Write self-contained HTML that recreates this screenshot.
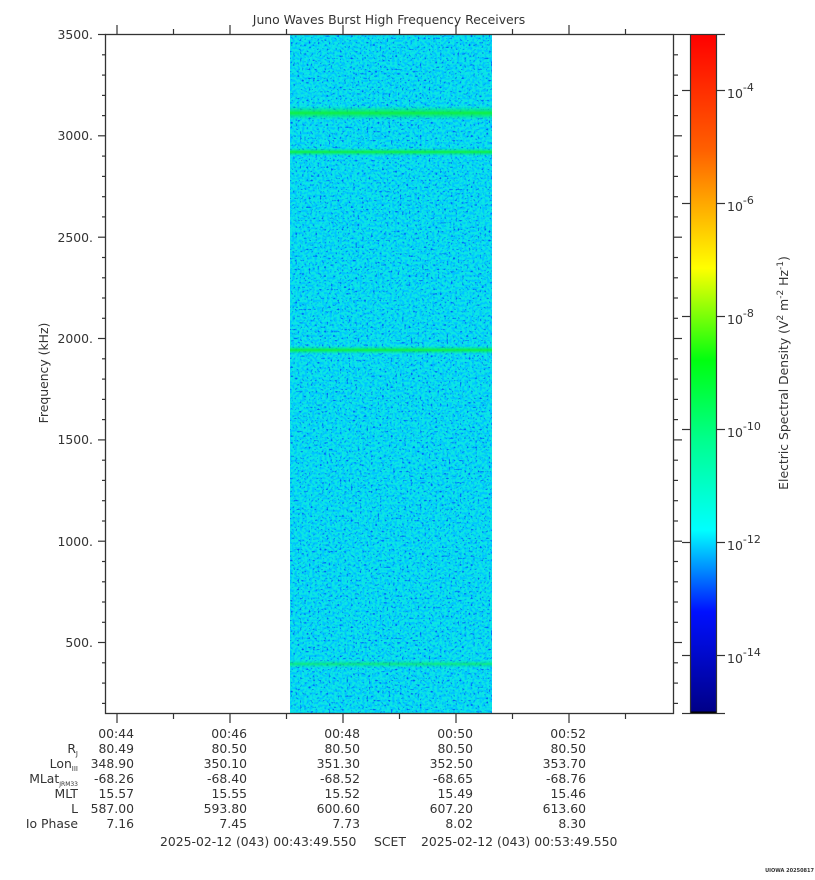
<!DOCTYPE html>
<html><head><meta charset="utf-8"><style>
html,body{margin:0;padding:0;background:#fff;}
svg{display:block;font-family:"DejaVu Sans","Liberation Sans",sans-serif;}
</style></head><body>
<svg width="815" height="880" viewBox="0 0 815 880" xmlns="http://www.w3.org/2000/svg">
<defs>
<linearGradient id="jet" x1="0" y1="0" x2="0" y2="1">
<stop offset="0" stop-color="#ff0000"/>
<stop offset="0.17" stop-color="#ff6000"/>
<stop offset="0.344" stop-color="#ffff00"/>
<stop offset="0.48" stop-color="#00ff10"/>
<stop offset="0.6" stop-color="#00ff90"/>
<stop offset="0.73" stop-color="#00ffff"/>
<stop offset="0.85" stop-color="#0010ff"/>
<stop offset="0.997" stop-color="#000088"/>
<stop offset="0.997" stop-color="#000"/>
<stop offset="1" stop-color="#000"/>
</linearGradient>
<filter id="nz" x="0" y="0" width="1" height="1" filterUnits="objectBoundingBox">
<feTurbulence type="fractalNoise" baseFrequency="0.4" numOctaves="1" seed="5"/>
<feColorMatrix type="matrix" values="0 0 0 0 0  0 0 0 0 0.55  0 0 0 0 1  5 0 0 0 -2.2"/>
</filter>
<filter id="nz2" x="0" y="0" width="1" height="1" filterUnits="objectBoundingBox">
<feTurbulence type="fractalNoise" baseFrequency="0.45" numOctaves="1" seed="11"/>
<feColorMatrix type="matrix" values="0 0 0 0 0  0 0 0 0 0.1  0 0 0 0 0.95  6 0 0 0 -3.6"/>
</filter>
<linearGradient id="ln" x1="0" y1="0" x2="0" y2="1">
<stop offset="0" stop-color="#00f080" stop-opacity="0"/>
<stop offset="0.5" stop-color="#10f040" stop-opacity="1"/>
<stop offset="1" stop-color="#00f080" stop-opacity="0"/>
</linearGradient>
</defs>
<text x="389" y="24" font-size="12.4" text-anchor="middle" fill="#333">Juno Waves Burst High Frequency Receivers</text>
<!-- spectrogram -->
<rect x="290" y="34" width="202" height="680" fill="#0ce6e4"/>
<rect x="290" y="34" width="202" height="680" filter="url(#nz)"/>
<rect x="290" y="34" width="202" height="680" filter="url(#nz2)"/>
<rect x="290" y="106" width="202" height="14" fill="url(#ln)"/>
<rect x="290" y="148" width="202" height="8" fill="url(#ln)"/>
<rect x="290" y="346" width="202" height="8" fill="url(#ln)"/>
<rect x="290" y="660" width="202" height="8" fill="url(#ln)" opacity="0.6"/>
<!-- frame -->
<rect x="105.5" y="34.5" width="568" height="679" fill="none" stroke="#333" stroke-width="1.3"/>
<g stroke="#333" stroke-width="1.2" id="yt">
<line x1="98" y1="34.5" x2="106" y2="34.5"/><line x1="98" y1="135.8" x2="106" y2="135.8"/><line x1="98" y1="237.2" x2="106" y2="237.2"/><line x1="98" y1="338.5" x2="106" y2="338.5"/><line x1="98" y1="439.9" x2="106" y2="439.9"/><line x1="98" y1="541.2" x2="106" y2="541.2"/><line x1="98" y1="642.5" x2="106" y2="642.5"/>
<line x1="102" y1="54.8" x2="106" y2="54.8"/><line x1="102" y1="75.1" x2="106" y2="75.1"/><line x1="102" y1="95.4" x2="106" y2="95.4"/><line x1="102" y1="115.6" x2="106" y2="115.6"/>
<line x1="102" y1="156.1" x2="106" y2="156.1"/><line x1="102" y1="176.4" x2="106" y2="176.4"/><line x1="102" y1="196.7" x2="106" y2="196.7"/><line x1="102" y1="216.9" x2="106" y2="216.9"/>
<line x1="102" y1="257.5" x2="106" y2="257.5"/><line x1="102" y1="277.8" x2="106" y2="277.8"/><line x1="102" y1="298.0" x2="106" y2="298.0"/><line x1="102" y1="318.3" x2="106" y2="318.3"/>
<line x1="102" y1="358.8" x2="106" y2="358.8"/><line x1="102" y1="379.1" x2="106" y2="379.1"/><line x1="102" y1="399.4" x2="106" y2="399.4"/><line x1="102" y1="419.6" x2="106" y2="419.6"/>
<line x1="102" y1="460.2" x2="106" y2="460.2"/><line x1="102" y1="480.4" x2="106" y2="480.4"/><line x1="102" y1="500.7" x2="106" y2="500.7"/><line x1="102" y1="521.0" x2="106" y2="521.0"/>
<line x1="102" y1="561.5" x2="106" y2="561.5"/><line x1="102" y1="581.8" x2="106" y2="581.8"/><line x1="102" y1="602.0" x2="106" y2="602.0"/><line x1="102" y1="622.3" x2="106" y2="622.3"/>
<line x1="102" y1="662.8" x2="106" y2="662.8"/><line x1="102" y1="683.1" x2="106" y2="683.1"/><line x1="102" y1="703.4" x2="106" y2="703.4"/>
</g>
<use href="#yt" transform="translate(780,0) scale(-1,1)"/>
<g stroke="#333" stroke-width="1.2">
<line x1="117" y1="714" x2="117" y2="723"/><line x1="230" y1="714" x2="230" y2="723"/><line x1="343" y1="714" x2="343" y2="723"/><line x1="456" y1="714" x2="456" y2="723"/><line x1="569" y1="714" x2="569" y2="723"/>
<line x1="173.5" y1="714" x2="173.5" y2="719"/><line x1="286.5" y1="714" x2="286.5" y2="719"/><line x1="399.5" y1="714" x2="399.5" y2="719"/><line x1="512.5" y1="714" x2="512.5" y2="719"/><line x1="625.5" y1="714" x2="625.5" y2="719"/>
<line x1="117" y1="25" x2="117" y2="34"/><line x1="230" y1="25" x2="230" y2="34"/><line x1="343" y1="25" x2="343" y2="34"/><line x1="456" y1="25" x2="456" y2="34"/><line x1="569" y1="25" x2="569" y2="34"/>
<line x1="173.5" y1="29" x2="173.5" y2="34"/><line x1="286.5" y1="29" x2="286.5" y2="34"/><line x1="399.5" y1="29" x2="399.5" y2="34"/><line x1="512.5" y1="29" x2="512.5" y2="34"/><line x1="625.5" y1="29" x2="625.5" y2="34"/>
</g>
<g font-size="12.4" fill="#333" text-anchor="end">
<text x="93" y="39">3500.</text><text x="93" y="140">3000.</text><text x="93" y="242">2500.</text><text x="93" y="343">2000.</text><text x="93" y="444">1500.</text><text x="93" y="546">1000.</text><text x="93" y="647">500.</text>
</g>
<text transform="translate(48,373) rotate(-90)" font-size="12.4" fill="#333" text-anchor="middle">Frequency (kHz)</text>
<!-- colorbar -->
<rect x="690.5" y="34.5" width="26" height="679" fill="url(#jet)" stroke="#333" stroke-width="1.2"/>
<g stroke="#333" stroke-width="1.2">
<line x1="682" y1="34.5" x2="690" y2="34.5"/><line x1="717" y1="34.5" x2="725" y2="34.5"/>
<line x1="682" y1="713.5" x2="690" y2="713.5"/><line x1="717" y1="713.5" x2="725" y2="713.5"/>
<line x1="682" y1="90.5" x2="690" y2="90.5"/><line x1="717" y1="90.5" x2="725" y2="90.5"/>
<line x1="682" y1="203.5" x2="690" y2="203.5"/><line x1="717" y1="203.5" x2="725" y2="203.5"/>
<line x1="682" y1="316.5" x2="690" y2="316.5"/><line x1="717" y1="316.5" x2="725" y2="316.5"/>
<line x1="682" y1="429.5" x2="690" y2="429.5"/><line x1="717" y1="429.5" x2="725" y2="429.5"/>
<line x1="682" y1="542.5" x2="690" y2="542.5"/><line x1="717" y1="542.5" x2="725" y2="542.5"/>
<line x1="682" y1="655.5" x2="690" y2="655.5"/><line x1="717" y1="655.5" x2="725" y2="655.5"/>
</g>
<g font-size="12.5" fill="#333">
<text x="727" y="98">10<tspan font-size="11" dy="-7">-4</tspan></text>
<text x="727" y="211">10<tspan font-size="11" dy="-7">-6</tspan></text>
<text x="727" y="324">10<tspan font-size="11" dy="-7">-8</tspan></text>
<text x="727" y="437">10<tspan font-size="11" dy="-7">-10</tspan></text>
<text x="727" y="550">10<tspan font-size="11" dy="-7">-12</tspan></text>
<text x="727" y="663">10<tspan font-size="11" dy="-7">-14</tspan></text>
</g>
<text transform="translate(788,373) rotate(-90)" font-size="12.4" fill="#333" text-anchor="middle">Electric Spectral Density (V<tspan font-size="9" dy="-5">2</tspan><tspan dy="5"> m</tspan><tspan font-size="9" dy="-5">-2</tspan><tspan dy="5"> Hz</tspan><tspan font-size="9" dy="-5">-1</tspan><tspan dy="5">)</tspan></text>
<!-- bottom table -->
<g font-size="12.4" fill="#333" text-anchor="end">
<text x="78" y="753">R<tspan font-size="7" dy="3">J</tspan></text>
<text x="78" y="768">Lon<tspan font-size="7" dy="3">III</tspan></text>
<text x="78" y="783">MLat<tspan font-size="6" dy="3">JRM33</tspan></text>
<text x="78" y="798">MLT</text>
<text x="78" y="813">L</text>
<text x="78" y="828">Io Phase</text>
<text x="134" y="738">00:44</text><text x="134" y="753">80.49</text><text x="134" y="768">348.90</text><text x="134" y="783">-68.26</text><text x="134" y="798">15.57</text><text x="134" y="813">587.00</text><text x="134" y="828">7.16</text>
<text x="247" y="738">00:46</text><text x="247" y="753">80.50</text><text x="247" y="768">350.10</text><text x="247" y="783">-68.40</text><text x="247" y="798">15.55</text><text x="247" y="813">593.80</text><text x="247" y="828">7.45</text>
<text x="360" y="738">00:48</text><text x="360" y="753">80.50</text><text x="360" y="768">351.30</text><text x="360" y="783">-68.52</text><text x="360" y="798">15.52</text><text x="360" y="813">600.60</text><text x="360" y="828">7.73</text>
<text x="473" y="738">00:50</text><text x="473" y="753">80.50</text><text x="473" y="768">352.50</text><text x="473" y="783">-68.65</text><text x="473" y="798">15.49</text><text x="473" y="813">607.20</text><text x="473" y="828">8.02</text>
<text x="586" y="738">00:52</text><text x="586" y="753">80.50</text><text x="586" y="768">353.70</text><text x="586" y="783">-68.76</text><text x="586" y="798">15.46</text><text x="586" y="813">613.60</text><text x="586" y="828">8.30</text>
</g>
<g font-size="12.4" fill="#333">
<text x="160" y="846">2025-02-12 (043) 00:43:49.550</text>
<text x="374" y="846">SCET</text>
<text x="421" y="846">2025-02-12 (043) 00:53:49.550</text>
</g>
<text x="814" y="872" font-size="5" font-weight="bold" fill="#333" text-anchor="end">UIOWA 20250817</text>
</svg>
</body></html>
